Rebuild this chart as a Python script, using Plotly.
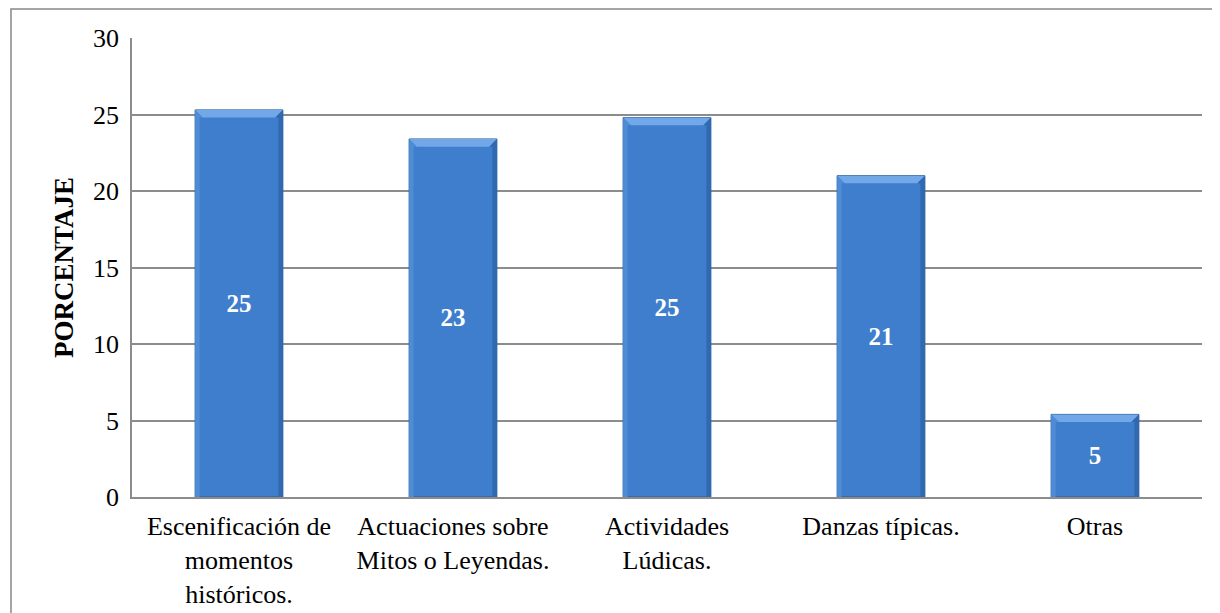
import plotly.graph_objects as go

categories = ["Escenificación de<br>momentos<br>históricos.",
              "Actuaciones sobre<br>Mitos o Leyendas.",
              "Actividades<br>Lúdicas.",
              "Danzas típicas.",
              "Otras"]
values = [25.3, 23.4, 24.8, 21.0, 5.4]
y_ticks = [0, 5, 10, 15, 20, 25, 30]

FONT = "Liberation Serif"
xpos = list(range(len(categories)))
BW = 0.41

fig = go.Figure()
fig.add_trace(go.Bar(
    x=xpos, y=values, width=BW,
    marker=dict(color="#3E7ECC", line=dict(color="#2A5B98", width=1)),
    texttemplate="<b>%{y:.0f}</b>", textposition="inside", insidetextanchor="middle",
    textfont=dict(family=FONT, size=25, color="white"),
    textangle=0, hoverinfo="skip",
))

shapes = []
dx = 0.035
dy = 0.5
for c, v in zip(xpos, values):
    l, r = c - BW / 2, c + BW / 2
    shapes.append(dict(type="path", xref="x", yref="y",
                       path=f"M {l},{v} L {r},{v} L {r-dx},{v-dy} L {l+dx},{v-dy} Z",
                       fillcolor="#72A8E8", line=dict(width=0), layer="above"))
    shapes.append(dict(type="path", xref="x", yref="y",
                       path=f"M {r},{v} L {r},0 L {r-dx*0.6},0 L {r-dx*0.6},{v-dy} L {r-dx},{v-dy} Z",
                       fillcolor="#3069B0", line=dict(width=0), layer="above"))
    shapes.append(dict(type="path", xref="x", yref="y",
                       path=f"M {l},{v} L {l},0 L {l+dx*0.6},0 L {l+dx*0.6},{v-dy} L {l+dx},{v-dy} Z",
                       fillcolor="#4F8CD6", line=dict(width=0), layer="above"))

# outer chart border
shapes.append(dict(type="rect", xref="paper", yref="paper",
                   x0=-0.1131, x1=1.05, y0=-0.3, y1=1.0632,
                   line=dict(color="#888888", width=1.5), fillcolor="rgba(0,0,0,0)"))

fig.update_layout(
    width=1220, height=613,
    margin=dict(l=124, r=26, t=30, b=124),
    paper_bgcolor="white", plot_bgcolor="white",
    showlegend=False,
    shapes=shapes,
    font=dict(family=FONT),
    xaxis=dict(tickmode="array", tickvals=xpos, ticktext=categories,
               range=[-0.5, 4.5], showgrid=False, zeroline=False,
               showline=True, linecolor="#8C8C8C", linewidth=1.5,
               tickfont=dict(family=FONT, size=26, color="black"),
               ticks="", ticklabelstandoff=5, fixedrange=True),
    yaxis=dict(range=[0, 30], tickmode="array", tickvals=y_ticks,
               showgrid=True, gridcolor="#8C8C8C", gridwidth=1.5,
               showline=True, linecolor="#8C8C8C", linewidth=1.5,
               zeroline=False, ticks="", ticklabelstandoff=6,
               tickfont=dict(family=FONT, size=26, color="black"),
               title=dict(text="<b>PORCENTAJE</b>", standoff=12,
                          font=dict(family=FONT, size=27, color="black"))),
)

fig.write_html("out.html")
